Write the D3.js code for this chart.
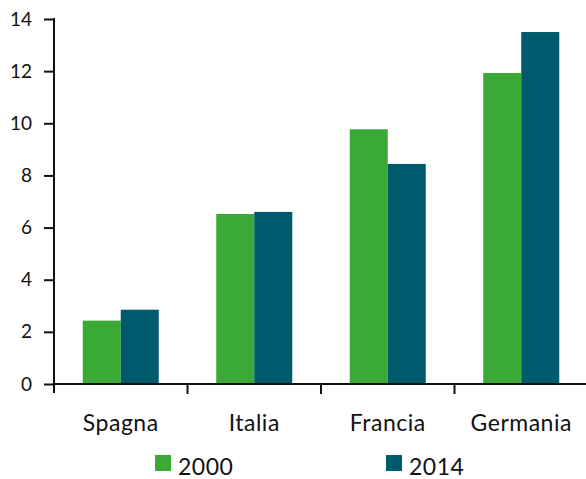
<!DOCTYPE html>
<html>
<head>
  <script src="https://d3js.org/d3.v7.min.js"></script>
  <style>
    body { margin: 0; background: #fff; }
    text { font-family: Lato, "Open Sans", sans-serif; fill: #111; }
  </style>
</head>
<body>
  <script>
    // Data
    var countries = ["Spagna", "Italia", "Francia", "Germania"];
    var years = ["2000", "2014"];
    var values2000 = [2.43, 6.52, 9.77, 11.93];
    var values2014 = [2.85, 6.6, 8.44, 13.5];
    var yTicks = [0, 2, 4, 6, 8, 10, 12, 14];
    var colors = ["#3aa935", "#005a6e"];

    var width = 586, height = 479;
    var margin = {top: 19, right: 0, bottom: 95, left: 54};
    var innerH = height - margin.top - margin.bottom;

    var svg = d3.select("body").append("svg")
      .attr("width", width)
      .attr("height", height);

    var g = svg.append("g")
      .attr("transform", "translate(" + margin.left + "," + margin.top + ")");

    var x = d3.scaleBand()
      .domain(countries)
      .range([0, 534]);

    var xSub = d3.scaleBand()
      .domain(years)
      .range([0, 76]);

    var y = d3.scaleLinear()
      .domain([0, 14])
      .range([innerH, 0]);

    var series = [values2000, values2014];

    // Bars
    years.forEach(function(yr, i) {
      g.selectAll(".bar-" + yr)
        .data(countries)
        .enter().append("rect")
        .attr("x", function(d) { return x(d) + (x.bandwidth() - 76) / 2 + xSub(yr); })
        .attr("width", xSub.bandwidth())
        .attr("y", function(d, j) { return y(series[i][j]); })
        .attr("height", function(d, j) { return innerH - y(series[i][j]); })
        .style("fill", colors[i]);
    });

    // Y axis (line runs a little below the x axis)
    var yAxis = g.append("g")
      .call(d3.axisLeft(y).tickValues(yTicks).tickSize(10).tickPadding(12));
    yAxis.selectAll("text").style("font-size", "19px");
    yAxis.selectAll("line, path").attr("stroke", "#111").attr("stroke-width", 2);
    yAxis.select(".domain").attr("d", "M0," + (innerH + 9) + "V-1");

    // X axis with ticks at band edges
    var xAxis = g.append("g")
      .attr("transform", "translate(0," + innerH + ")");
    xAxis.append("line")
      .attr("x1", 0).attr("x2", 534)
      .attr("stroke", "#111").attr("stroke-width", 2);
    xAxis.selectAll(".edge")
      .data(countries)
      .enter().append("line")
      .attr("x1", function(d) { return x(d) + x.bandwidth(); })
      .attr("x2", function(d) { return x(d) + x.bandwidth(); })
      .attr("y1", 0).attr("y2", 10)
      .attr("stroke", "#111").attr("stroke-width", 2);
    xAxis.selectAll(".lbl")
      .data(countries)
      .enter().append("text")
      .attr("x", function(d) { return x(d) + x.bandwidth() / 2; })
      .attr("y", 47)
      .attr("text-anchor", "middle")
      .style("font-size", "23px")
      .style("letter-spacing", "0.5px")
      .text(function(d) { return d; });

    // Legend
    var legendX = [155, 386];
    var legend = svg.selectAll(".legend")
      .data(years)
      .enter().append("g")
      .attr("transform", function(d, i) { return "translate(" + legendX[i] + ",455)"; });
    legend.append("rect")
      .attr("width", 16).attr("height", 16)
      .style("fill", function(d, i) { return colors[i]; });
    legend.append("text")
      .attr("x", 23).attr("y", 20)
      .style("font-size", "23px")
      .style("letter-spacing", "0.5px")
      .text(function(d) { return d; });
  </script>
</body>
</html>
